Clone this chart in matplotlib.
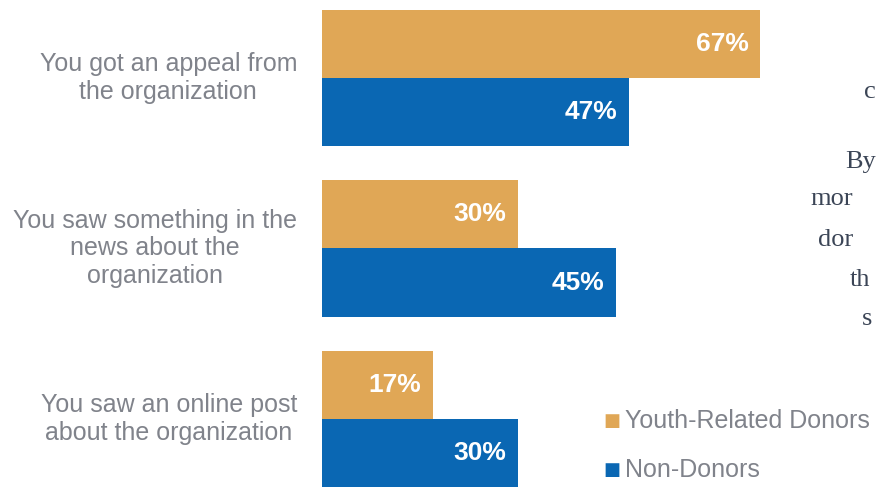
import matplotlib.pyplot as plt

categories = [
    "You got an appeal from\nthe organization",
    "You saw something in the\nnews about the\norganization",
    "You saw an online post\nabout the organization",
]
youth_donors = [67, 30, 17]
non_donors = [47, 45, 30]
series_names = ["Youth-Related Donors", "Non-Donors"]
side_text = ["c", "By", "mor", "dor", "th", "s"]

ORANGE = "#E0A756"
BLUE = "#0A67B3"
GRAY = "#80838b"

W, H = 876, 487
fig = plt.figure(figsize=(W / 100, H / 100), dpi=100)
fig.patch.set_facecolor("white")

# axes spans from the bar baseline to the right edge of the picture
ax = fig.add_axes([322 / W, 0, 1 - 322 / W, 1])
ax.set_xlim(0, 84.7)
ax.set_ylim(2.399, -0.457)
ax.axis("off")

bh = 0.4
for i, cat in enumerate(categories):
    ax.barh(i - bh / 2, youth_donors[i], height=bh, color=ORANGE)
    ax.barh(i + bh / 2, non_donors[i], height=bh, color=BLUE)
    ax.text(youth_donors[i] - 1.8, i - bh / 2, f"{youth_donors[i]}%", color="white",
            fontsize=19, fontweight="bold", ha="right", va="center",
            family="Liberation Sans")
    ax.text(non_donors[i] - 1.8, i + bh / 2, f"{non_donors[i]}%", color="white",
            fontsize=19, fontweight="bold", ha="right", va="center",
            family="Liberation Sans")
    ax.annotate(cat, xy=(0, i), xycoords=("axes fraction", "data"),
                xytext=(-25, 0), textcoords="offset pixels",
                ha="right", va="center", multialignment="center",
                fontsize=18, color=GRAY, family="Liberation Sans", linespacing=1.2)

# legend drawn as square markers + labels
leg_y = [421, 470]
for name, col, y in zip(series_names, [ORANGE, BLUE], leg_y):
    fig.text(603 / W, 1 - y / H, "\u25A0", color=col, fontsize=13,
             ha="left", va="center", family="DejaVu Sans")
    fig.text(625 / W, 1 - y / H, name, color=GRAY, fontsize=18,
             ha="left", va="center", family="Liberation Sans")

# cut-off paragraph text at the right edge
side_pos = [(864, 92), (845, 162), (810, 199), (818, 240), (850, 280), (862, 319)]
for t, (x, y) in zip(side_text, side_pos):
    fig.text(x / W, 1 - y / H, t, color="#3b4556", fontsize=19,
             ha="left", va="center", family="Liberation Serif")

fig.savefig("out.png", dpi=100)
